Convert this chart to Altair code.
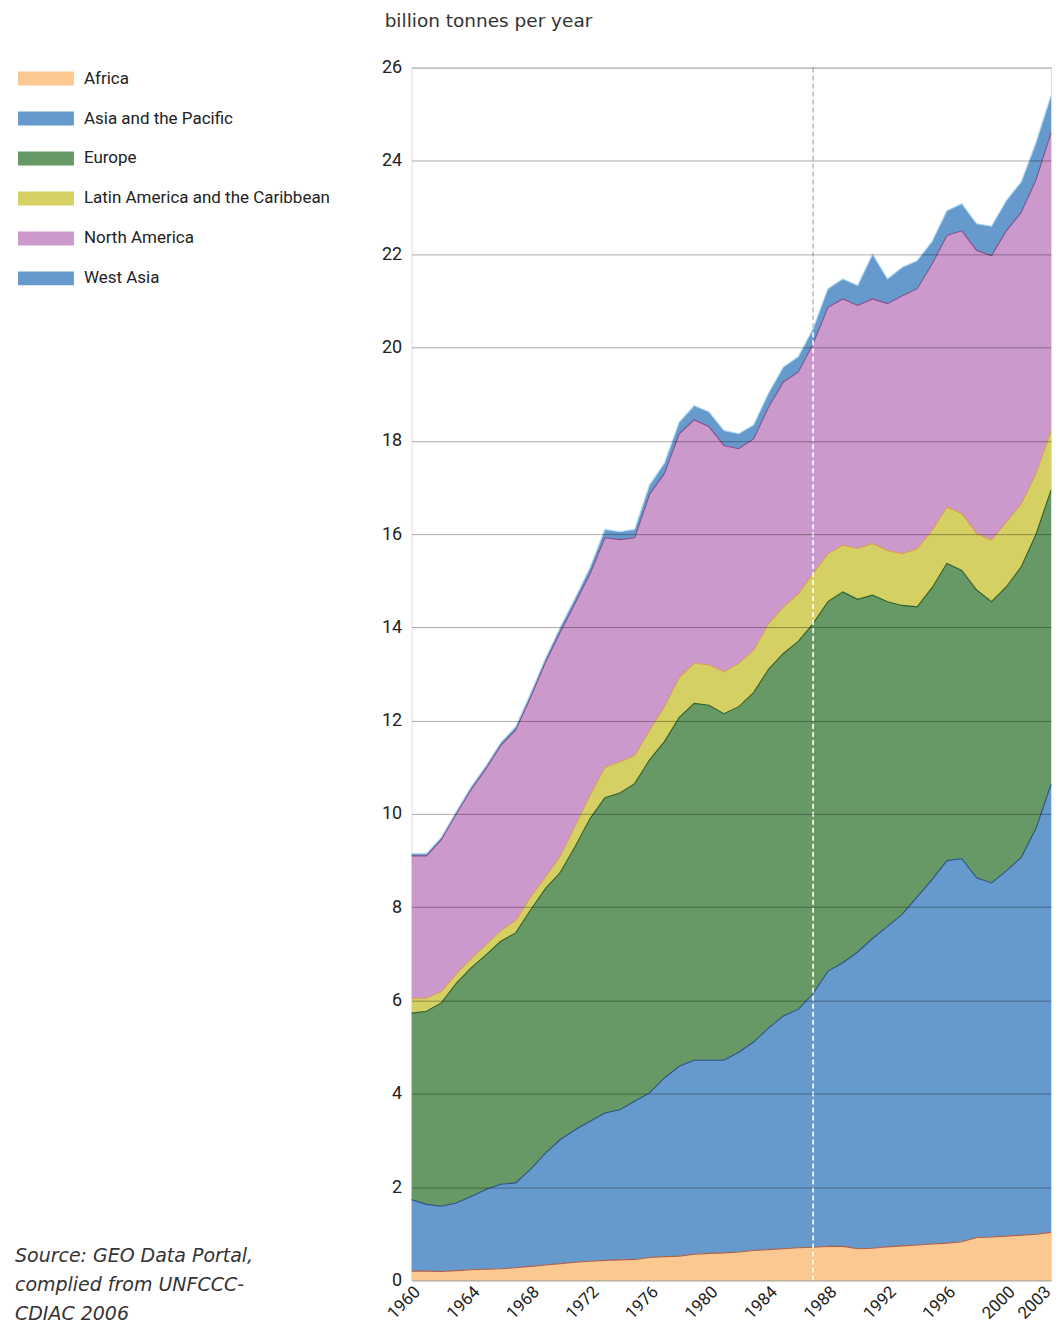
import altair as alt
import pandas as pd

years = list(range(1960, 2004))

regions = ["Africa", "Asia and the Pacific", "Europe",
           "Latin America and the Caribbean", "North America", "West Asia"]

africa = [0.20, 0.20, 0.19, 0.21, 0.23, 0.24, 0.25, 0.27, 0.30, 0.33,
          0.36, 0.39, 0.41, 0.43, 0.44, 0.45, 0.49, 0.51, 0.52, 0.56,
          0.58, 0.59, 0.61, 0.64, 0.66, 0.68, 0.70, 0.71, 0.73, 0.73,
          0.68, 0.69, 0.72, 0.74, 0.76, 0.78, 0.80, 0.83, 0.92, 0.93,
          0.95, 0.97, 0.99, 1.03]
asia_pacific = [1.53, 1.43, 1.40, 1.45, 1.57, 1.71, 1.81, 1.82, 2.08, 2.40,
                2.66, 2.84, 3.00, 3.16, 3.22, 3.39, 3.53, 3.83, 4.07, 4.16,
                4.14, 4.13, 4.28, 4.47, 4.75, 4.99, 5.11, 5.44, 5.90, 6.08,
                6.36, 6.64, 6.87, 7.11, 7.46, 7.81, 8.20, 8.21, 7.71, 7.59,
                7.83, 8.10, 8.71, 9.60]
europe = [4.00, 4.14, 4.36, 4.71, 4.90, 5.03, 5.21, 5.36, 5.56, 5.67,
          5.73, 6.07, 6.49, 6.76, 6.79, 6.81, 7.14, 7.21, 7.48, 7.65,
          7.61, 7.43, 7.41, 7.49, 7.69, 7.77, 7.89, 7.93, 7.92, 7.95,
          7.56, 7.36, 6.96, 6.62, 6.22, 6.26, 6.37, 6.18, 6.17, 6.03,
          6.09, 6.23, 6.30, 6.31]
latin_america = [0.32, 0.28, 0.25, 0.20, 0.20, 0.22, 0.23, 0.27, 0.28, 0.25,
                 0.35, 0.45, 0.50, 0.65, 0.67, 0.60, 0.64, 0.75, 0.86, 0.86,
                 0.87, 0.90, 0.93, 0.91, 0.98, 1.00, 1.02, 1.07, 1.03, 1.00,
                 1.09, 1.11, 1.10, 1.11, 1.25, 1.23, 1.21, 1.22, 1.21, 1.32,
                 1.39, 1.35, 1.30, 1.28]
north_america = [3.05, 3.05, 3.25, 3.43, 3.62, 3.77, 3.97, 4.08, 4.28, 4.60,
                 4.80, 4.77, 4.75, 4.92, 4.76, 4.67, 5.05, 5.00, 5.22, 5.22,
                 5.10, 4.85, 4.60, 4.53, 4.64, 4.82, 4.75, 4.93, 5.28, 5.28,
                 5.21, 5.24, 5.29, 5.53, 5.57, 5.71, 5.82, 6.06, 6.07, 6.10,
                 6.24, 6.25, 6.30, 6.38]
west_asia = [0.05, 0.05, 0.05, 0.05, 0.06, 0.06, 0.06, 0.07, 0.08, 0.08,
             0.10, 0.11, 0.13, 0.18, 0.17, 0.18, 0.20, 0.22, 0.25, 0.30,
             0.32, 0.32, 0.32, 0.30, 0.30, 0.32, 0.33, 0.32, 0.40, 0.43,
             0.43, 0.96, 0.53, 0.61, 0.60, 0.48, 0.53, 0.58, 0.57, 0.63,
             0.65, 0.65, 0.80, 0.80]

x_ticks = [1960, 1964, 1968, 1972, 1976, 1980, 1984, 1988, 1992, 1996, 2000, 2003]
y_ticks = list(range(0, 27, 2))
marker_year = 1987

source_lines = ["Source: GEO Data Portal,", "complied from UNFCCC-", "CDIAC 2006"]
unit_label = "billion tonnes per year"

fill_colors = ["#FCC891", "#6699CC", "#669966", "#D4D063", "#CC99CC", "#6699CC"]
line_colors = ["#B0604A", "#2B4F8C", "#2E5E2E", "#D89B5C", "#8A4C8A", "#A8D8F2"]

series = [africa, asia_pacific, europe, latin_america, north_america, west_asia]
rows = []
for i, (name, vals) in enumerate(zip(regions, series)):
    for yr, v in zip(years, vals):
        rows.append({"year": yr, "region": name, "value": v, "order": i})
df = pd.DataFrame(rows)

total_marker = float(df[df["year"] == marker_year]["value"].sum())

LBL = "Roboto"

xs = alt.Scale(domain=[1960, 2003], nice=False, zero=False)
ys = alt.Scale(domain=[0, 26], nice=False)
x_axis = alt.Axis(values=x_ticks, format="d", labelAngle=-45, title=None, grid=False,
                  domain=False, ticks=False, labelFontSize=17, labelFont=LBL,
                  labelColor="#222222", labelPadding=3, labelOverlap=False,
                  labelOffset={"condition": {"test": "datum.value == 2003", "value": -9},
                               "value": 0})
y_axis = alt.Axis(values=y_ticks, title=None, grid=True, gridColor="#000000",
                  gridOpacity=0.33, gridWidth=1, domain=False, ticks=False,
                  labelFontSize=18, labelFont=LBL, labelColor="#222222",
                  labelPadding=10, zindex=1)

base = alt.Chart(df).transform_stack(
    stack="value", groupby=["year"], as_=["y0", "y1"],
    sort=[alt.SortField("order", order="ascending")]
)

areas = base.mark_area(opacity=1).encode(
    x=alt.X("year:Q", scale=xs, axis=x_axis),
    y=alt.Y("y1:Q", scale=ys, axis=y_axis),
    y2="y0:Q",
    color=alt.Color(
        "region:N",
        scale=alt.Scale(domain=regions, range=fill_colors),
        legend=alt.Legend(
            orient="none", legendX=-394, legendY=-3, title=None,
            symbolType="M-1,-0.5H3V0.5H-1Z", symbolSize=784,
            symbolStrokeWidth=0, symbolOpacity=1,
            labelFontSize=17, labelFont=LBL, labelColor="#222222",
            labelOffset=38, rowPadding=18, labelLimit=400,
        ),
    ),
)

lines = base.mark_line(strokeWidth=1.1).encode(
    x=alt.X("year:Q", scale=xs, axis=x_axis),
    y=alt.Y("y1:Q", scale=ys, axis=y_axis),
    stroke=alt.Stroke("region:N", scale=alt.Scale(domain=regions, range=line_colors), legend=None),
)

rule_df = pd.DataFrame({"year": [marker_year], "zero": [0.0], "top": [total_marker]})
rule_gray = alt.Chart(rule_df).mark_rule(strokeDash=[5, 3], color="#aaaaaa", strokeWidth=1.2).encode(
    x=alt.X("year:Q", scale=xs, axis=x_axis),
)
rule_white = alt.Chart(rule_df).mark_rule(strokeDash=[5, 3], color="#ffffff", strokeWidth=1.6).encode(
    x=alt.X("year:Q", scale=xs, axis=x_axis),
    y=alt.Y("zero:Q", scale=ys, axis=y_axis),
    y2="top:Q",
)

one = pd.DataFrame({"k": [0]})
title_txt = alt.Chart(one).mark_text(
    text=unit_label, align="left", baseline="middle",
    font="DejaVu Sans", fontSize=18.5, color="#333333"
).encode(x=alt.value(-27), y=alt.value(-47))

source_layers = []
for i, line in enumerate(source_lines):
    source_layers.append(
        alt.Chart(one).mark_text(
            text=line, align="left", baseline="middle", font="DejaVu Sans",
            fontStyle="italic", fontSize=19, color="#333333"
        ).encode(x=alt.value(-397), y=alt.value(1190 + 29 * i))
    )

chart = alt.layer(rule_gray, areas, lines, rule_white, title_txt, *source_layers).properties(
    width=640, height=1214,
    padding={"left": 7, "top": 3, "right": 0, "bottom": 0},
).configure_view(stroke="#a0a0a0", strokeWidth=1).configure(background="white")

chart.save("out.html", embed_options={"renderer": "svg", "actions": False})
